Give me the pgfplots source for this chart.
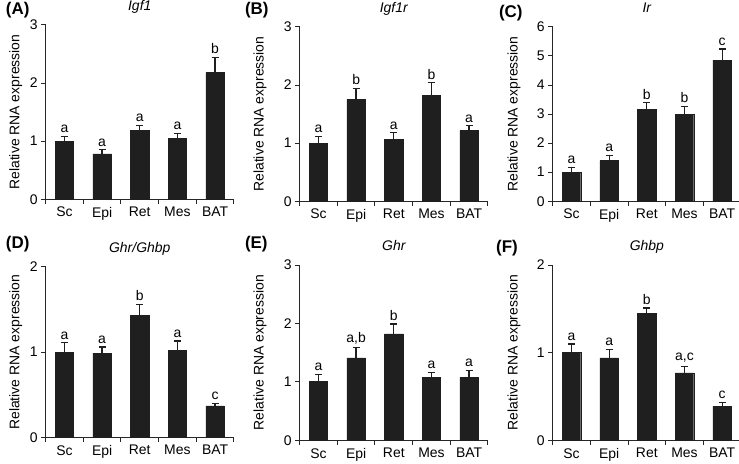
\documentclass[border=0pt]{standalone}
\usepackage{pgfplots}
\pgfplotsset{compat=1.18}
\usepackage{fontspec}
\setmainfont{Liberation Sans}
\begin{document}
\pgfplotsset{
  panel/.style={
    scale only axis, width=189pt, height=175pt,
    anchor=south west,
    xmin=0.5, xmax=5.5, ymin=0,
    axis x line*=bottom, axis y line*=left,
    axis line style={-, line width=1pt, black!85},
    xtick={0.5,1.5,2.5,3.5,4.5,5.5},
    x tick label as interval,
    xticklabels={Sc,Epi,Ret,Mes,BAT},
    tick align=outside, major tick length=4.5pt,
    tick style={line width=1pt, black!85},
    ytick distance=1,
    /pgf/number format/assume math mode=true,
    tick label style={font=\fontsize{14}{16}\selectfont},
    ylabel={Relative RNA expression},
    ylabel style={font=\fontsize{14}{16}\selectfont, anchor=center},
    title style={font=\fontsize{14}{16}\selectfont\itshape, anchor=base, at={(axis description cs:0.5,1)}, yshift=8.5pt},
    every node near coord/.append style={font=\fontsize{14}{16}\selectfont, black},
  },
  bars/.style={ybar, bar width=18.5pt, bar shift=0pt, fill=black!88, draw=black!88,
    error bars/.cd, y dir=plus, y explicit,
    error bar style={line width=1.3pt, black!88},
    error mark options={rotate=90, mark size=3.5pt, line width=1.3pt, black!88}},
  lbl/.style={only marks, mark=none, nodes near coords, point meta=explicit symbolic,
    nodes near coords align={above}},
}
\begin{tikzpicture}
\useasboundingbox (0pt,0pt) rectangle (739pt,465pt);
% (A)
\begin{axis}[panel, at={(43pt,265pt)}, ymax=3, title={Igf1},
  ylabel style={at={(axis description cs:-0.159,0.5)}}]
\addplot[bars] coordinates {(1,1.00) +- (0,0.08) (2,0.78) +- (0,0.07) (3,1.18) +- (0,0.09) (4,1.05) +- (0,0.08) (5,2.18) +- (0,0.26)};
\addplot[lbl] coordinates {(1,1.08)[a] (2,0.85)[a] (3,1.27)[a] (4,1.13)[a] (5,2.44)[b]};
\end{axis}
% (B)
\begin{axis}[panel, at={(298pt,263pt)}, ymax=3, title={Igf1r},
  ylabel style={at={(axis description cs:-0.21,0.5)}}]
\addplot[bars] coordinates {(1,1.00) +- (0,0.12) (2,1.75) +- (0,0.19) (3,1.07) +- (0,0.11) (4,1.82) +- (0,0.22) (5,1.22) +- (0,0.08)};
\addplot[lbl] coordinates {(1,1.12)[a] (2,1.94)[b] (3,1.18)[a] (4,2.04)[b] (5,1.30)[a]};
\end{axis}
% (C)
\begin{axis}[panel, at={(552pt,263pt)}, ymax=6, title={Ir},
  ylabel style={at={(axis description cs:-0.206,0.5)}}]
\addplot[bars] coordinates {(1,0.99) +- (0,0.17) (2,1.40) +- (0,0.18) (3,3.17) +- (0,0.22) (4,3.00) +- (0,0.26) (5,4.86) +- (0,0.38)};
\addplot[lbl] coordinates {(1,1.16)[a] (2,1.58)[a] (3,3.39)[b] (4,3.26)[b] (5,5.24)[c]};
\end{axis}
% (D)
\begin{axis}[panel, at={(43pt,26pt)}, ymax=2, height=171pt, title={Ghr/Ghbp},
  ylabel style={at={(axis description cs:-0.159,0.5)}}]
\addplot[bars] coordinates {(1,1.00) +- (0,0.11) (2,0.99) +- (0,0.07) (3,1.43) +- (0,0.13) (4,1.02) +- (0,0.11) (5,0.37) +- (0,0.03)};
\addplot[lbl] coordinates {(1,1.11)[a] (2,1.06)[a] (3,1.56)[b] (4,1.13)[a] (5,0.40)[c]};
\end{axis}
% (E)
\begin{axis}[panel, at={(298pt,23pt)}, ymax=3, height=176pt, title={Ghr},
  ylabel style={at={(axis description cs:-0.21,0.5)}}]
\addplot[bars] coordinates {(1,1.01) +- (0,0.115) (2,1.41) +- (0,0.18) (3,1.82) +- (0,0.17) (4,1.08) +- (0,0.08) (5,1.08) +- (0,0.12)};
\addplot[lbl] coordinates {(1,1.125)[a] (2,1.59)[{a,b}] (3,1.99)[b] (4,1.16)[a] (5,1.20)[a]};
\end{axis}
% (F)
\begin{axis}[panel, at={(552pt,23pt)}, ymax=2, height=176pt, title={Ghbp},
  ylabel style={at={(axis description cs:-0.206,0.5)}}]
\addplot[bars] coordinates {(1,1.00) +- (0,0.10) (2,0.94) +- (0,0.10) (3,1.45) +- (0,0.06) (4,0.77) +- (0,0.075) (5,0.39) +- (0,0.04)};
\addplot[lbl] coordinates {(1,1.10)[a] (2,1.04)[a] (3,1.51)[b] (4,0.845)[{a,c}] (5,0.43)[c]};
\end{axis}
\node[anchor=north west, font=\fontsize{17}{19}\selectfont\bfseries, inner sep=0pt] at (3pt,463pt) {(A)};
\node[anchor=north west, font=\fontsize{17}{19}\selectfont\bfseries, inner sep=0pt] at (243pt,463pt) {(B)};
\node[anchor=north west, font=\fontsize{17}{19}\selectfont\bfseries, inner sep=0pt] at (498pt,460pt) {(C)};
\node[anchor=north west, font=\fontsize{17}{19}\selectfont\bfseries, inner sep=0pt] at (3pt,228pt) {(D)};
\node[anchor=north west, font=\fontsize{17}{19}\selectfont\bfseries, inner sep=0pt] at (243pt,228pt) {(E)};
\node[anchor=north west, font=\fontsize{17}{19}\selectfont\bfseries, inner sep=0pt] at (495pt,224pt) {(F)};
\end{tikzpicture}
\end{document}
